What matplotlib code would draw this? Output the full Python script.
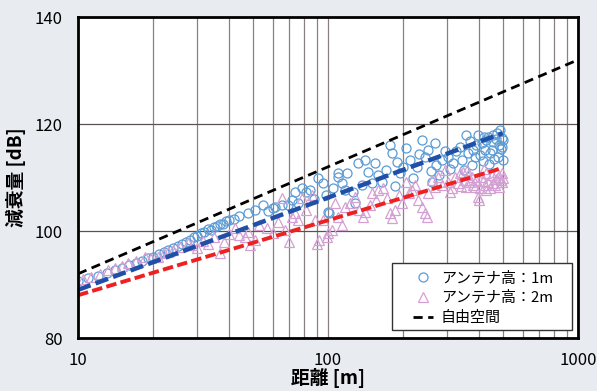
"""
距離と減衰量の散布図 (アンテナ高 1m / 2m) と近似直線、自由空間損失の線を描く。
"""

import matplotlib
matplotlib.use("Agg")
from matplotlib import pyplot as plt
from matplotlib.patches import Rectangle
from matplotlib.ticker import NullFormatter

plt.rcParams["font.family"] = ["Noto Sans CJK JP", "DejaVu Sans"]

# アンテナ高 1m の測定値 (距離 m, 減衰量 dB)
dist_1m = [10, 11, 12, 13, 14, 15, 16, 17, 18, 19, 20, 21, 22, 23, 24, 25,
           26, 27, 28, 29, 30, 31, 32, 33, 34, 35, 36, 37, 38, 39, 40, 42,
           44, 47.8, 51, 55, 57.5, 60, 61.5, 65.6, 69, 71.8, 73.9, 76, 78.7,
           82, 84.5, 88, 91, 95.5, 98, 100, 101, 104.7, 109.6, 110, 113.6,
           117, 119, 126, 128, 132, 137, 140.6, 144.5, 150, 154, 158.5, 164,
           170, 177, 180, 185, 189, 194, 200, 206, 212, 219, 227, 232, 238,
           245, 252, 258, 261, 268, 270, 278, 285, 293, 301, 308, 316, 325,
           337, 343, 350, 358, 362, 370, 376, 380, 386, 392, 398, 405, 412,
           418, 420, 424, 430, 436, 440, 445, 452, 455, 457, 463, 470, 475,
           479, 484, 488, 492, 495, 498, 500, 502]
loss_1m = [90.6, 91.2, 91.6, 92.2, 92.7, 93.1, 93.6, 94.0, 94.4, 94.9, 95.2,
           95.7, 96.1, 96.4, 96.9, 97.2, 97.6, 97.9, 98.4, 98.8, 99.1, 99.6,
           99.9, 100.3, 100.2, 100.7, 101.0, 101.4, 101.3, 101.8, 102.1,
           102.3, 102.9, 103.4, 104.0, 104.9, 103.8, 104.3, 104.5, 104.9,
           104.9, 105.8, 107.3, 105.2, 108.0, 107.3, 107.7, 106.0, 109.9,
           109.0, 106.8, 103.6, 103.4, 108.0, 110.8, 110.1, 109.0, 107.7,
           110.8, 107.3, 105.2, 112.7, 108.6, 113.3, 111.0, 109.0, 112.7,
           110.5, 109.2, 111.4, 116.1, 114.6, 108.4, 112.9, 110.8, 112.0,
           115.5, 113.3, 109.9, 112.0, 114.4, 117.0, 113.8, 115.1, 111.2,
           109.2, 116.4, 112.3, 110.5, 113.3, 114.9, 113.8, 111.6, 112.7,
           115.0, 115.7, 113.3, 111.4, 117.9, 114.6, 116.8, 112.3, 115.2,
           113.8, 116.0, 117.9, 114.2, 116.4, 113.0, 117.5, 115.1, 117.0,
           117.6, 112.6, 114.6, 115.1, 118.0, 116.6, 113.5, 117.2, 118.3,
           113.8, 116.0, 118.9, 115.4, 117.4, 115.7, 113.2, 117.0]

# アンテナ高 2m の測定値
dist_2m = [10.5, 11.3, 12.2, 13.2, 14.1, 15.0, 15.9, 17.0, 18.5, 19.5, 20.9,
           22.0, 22.9, 24.0, 25.5, 27.5, 28.6, 30.0, 31.5, 33, 35, 37, 38.5,
           40, 42.4, 44, 46.6, 47.9, 48.8, 51, 53, 57, 60, 63, 65.6, 67.4,
           70, 71.8, 73.9, 76, 78.7, 82, 86, 88.7, 90, 92, 95.5, 99, 100,
           104, 106.7, 110, 113.6, 117, 122.5, 128, 133, 138, 140.6, 147,
           150, 155, 158.5, 166, 172, 177, 180, 185, 192, 198, 206, 210, 216,
           222, 229, 238, 245, 249, 252, 260, 268, 276, 285, 293, 301, 307,
           313, 322, 331, 338, 340, 346, 352, 358, 360, 364, 369, 375, 380,
           386, 392, 398, 400, 405, 412, 418, 420, 424, 430, 430, 436, 444,
           452, 458, 465, 470, 472, 479, 485, 490, 495, 498, 502]
loss_2m = [91.0, 91.4, 91.9, 92.7, 93.1, 93.5, 94.0, 94.4, 95.1, 95.0, 95.1,
           95.8, 96.1, 96.5, 97.0, 97.8, 97.3, 96.8, 98.2, 97.6, 98.9, 95.9,
           98.0, 99.4, 100.6, 99.2, 98.9, 99.8, 97.4, 98.3, 101.2, 100.6,
           99.6, 101.7, 106.2, 100.2, 98.0, 102.6, 103.4, 102.1, 106.2,
           104.0, 106.7, 102.1, 97.5, 98.3, 102.1, 98.9, 99.6, 100.2, 105.2,
           102.6, 101.1, 104.5, 105.2, 106.4, 103.9, 102.6, 103.6, 104.9,
           107.1, 105.8, 107.7, 108.0, 106.2, 103.4, 102.4, 103.9, 106.7,
           105.2, 109.2, 107.1, 107.7, 108.6, 105.8, 104.5, 103.4, 102.6,
           107.1, 109.6, 108.2, 110.1, 108.6, 111.4, 109.2, 107.3, 108.0,
           110.1, 109.0, 110.8, 108.4, 111.0, 109.6, 108.2, 111.4, 110.5,
           109.2, 110.1, 108.6, 108.2, 109.6, 106.4, 105.8, 108.0, 110.1,
           109.4, 111.6, 108.6, 110.8, 107.6, 109.2, 108.0, 110.5, 109.0,
           108.6, 109.8, 111.0, 110.1, 108.2, 109.6, 110.8, 109.2, 109.9]

# 近似直線 (両端の距離と減衰量)
fit_dist = [10, 500]
fit_1m = [89.0, 118.3]
fit_2m = [88.0, 111.8]

# 自由空間損失
free_dist = [10, 1000]
free_loss = [92.0, 132.0]

fig = plt.figure(figsize=(5.97, 3.91), dpi=100)
fig.patch.set_facecolor("#e8ebf0")
ax = fig.add_axes([0.1307, 0.1355, 0.8375, 0.821])

ax.plot(dist_1m, loss_1m, "o", ms=6.5, mfc="none", mec="#5b9bd5", mew=0.9,
        label="アンテナ高：1m")
ax.plot(dist_2m, loss_2m, "^", ms=6.5, mfc="none", mec="#d4a0d4", mew=0.9,
        label="アンテナ高：2m")
ax.plot(fit_dist, fit_1m, color="#1f4fa6", lw=3.2, dashes=(3.0, 1.2))
ax.plot(fit_dist, fit_2m, color="#ee2020", lw=2.8, dashes=(2.7, 1.1))
ax.plot(free_dist, free_loss, color="black", lw=2.0, dashes=(3.3, 2.0),
        label="自由空間")

ax.set_xscale("log")
ax.set_xlim(10, 1000)
ax.set_ylim(80, 140)
ax.set_xticks([10, 100, 1000])
ax.set_xticklabels(["10", "100", "1000"])
ax.xaxis.set_minor_formatter(NullFormatter())
ax.set_yticks([80, 100, 120, 140])
ax.tick_params(which="both", length=0, labelsize=12)
ax.tick_params(axis="x", pad=10)
ax.tick_params(axis="y", pad=11)

ax.grid(which="both", axis="x", color="#8a8080", lw=0.9)
ax.grid(which="major", axis="y", color="#5a5252", lw=0.9)
ax.set_axisbelow(True)
for s in ax.spines.values():
    s.set_linewidth(2.0)
    s.set_color("black")

ax.set_xlabel("距離 [m]", fontsize=13.5, fontweight="bold", labelpad=-1)
ax.set_ylabel("減衰量 [dB]", fontsize=13.5, fontweight="bold", labelpad=6)

# 凡例の枠は別に描き、凡例本体は枠なしで中に置く
box = Rectangle((0.628, 0.025), 0.36, 0.209, transform=ax.transAxes,
                facecolor="white", edgecolor="#333333", lw=1.0, zorder=4)
ax.add_patch(box)
leg = ax.legend(loc="upper left", bbox_to_anchor=(0.67, 0.207),
                borderaxespad=0, borderpad=0, frameon=False, fontsize=10.8,
                numpoints=1, handlelength=1.35, handletextpad=0.5,
                labelspacing=0.37)
leg.set_zorder(5)

fig.savefig("out.png", dpi=100, facecolor=fig.get_facecolor())
